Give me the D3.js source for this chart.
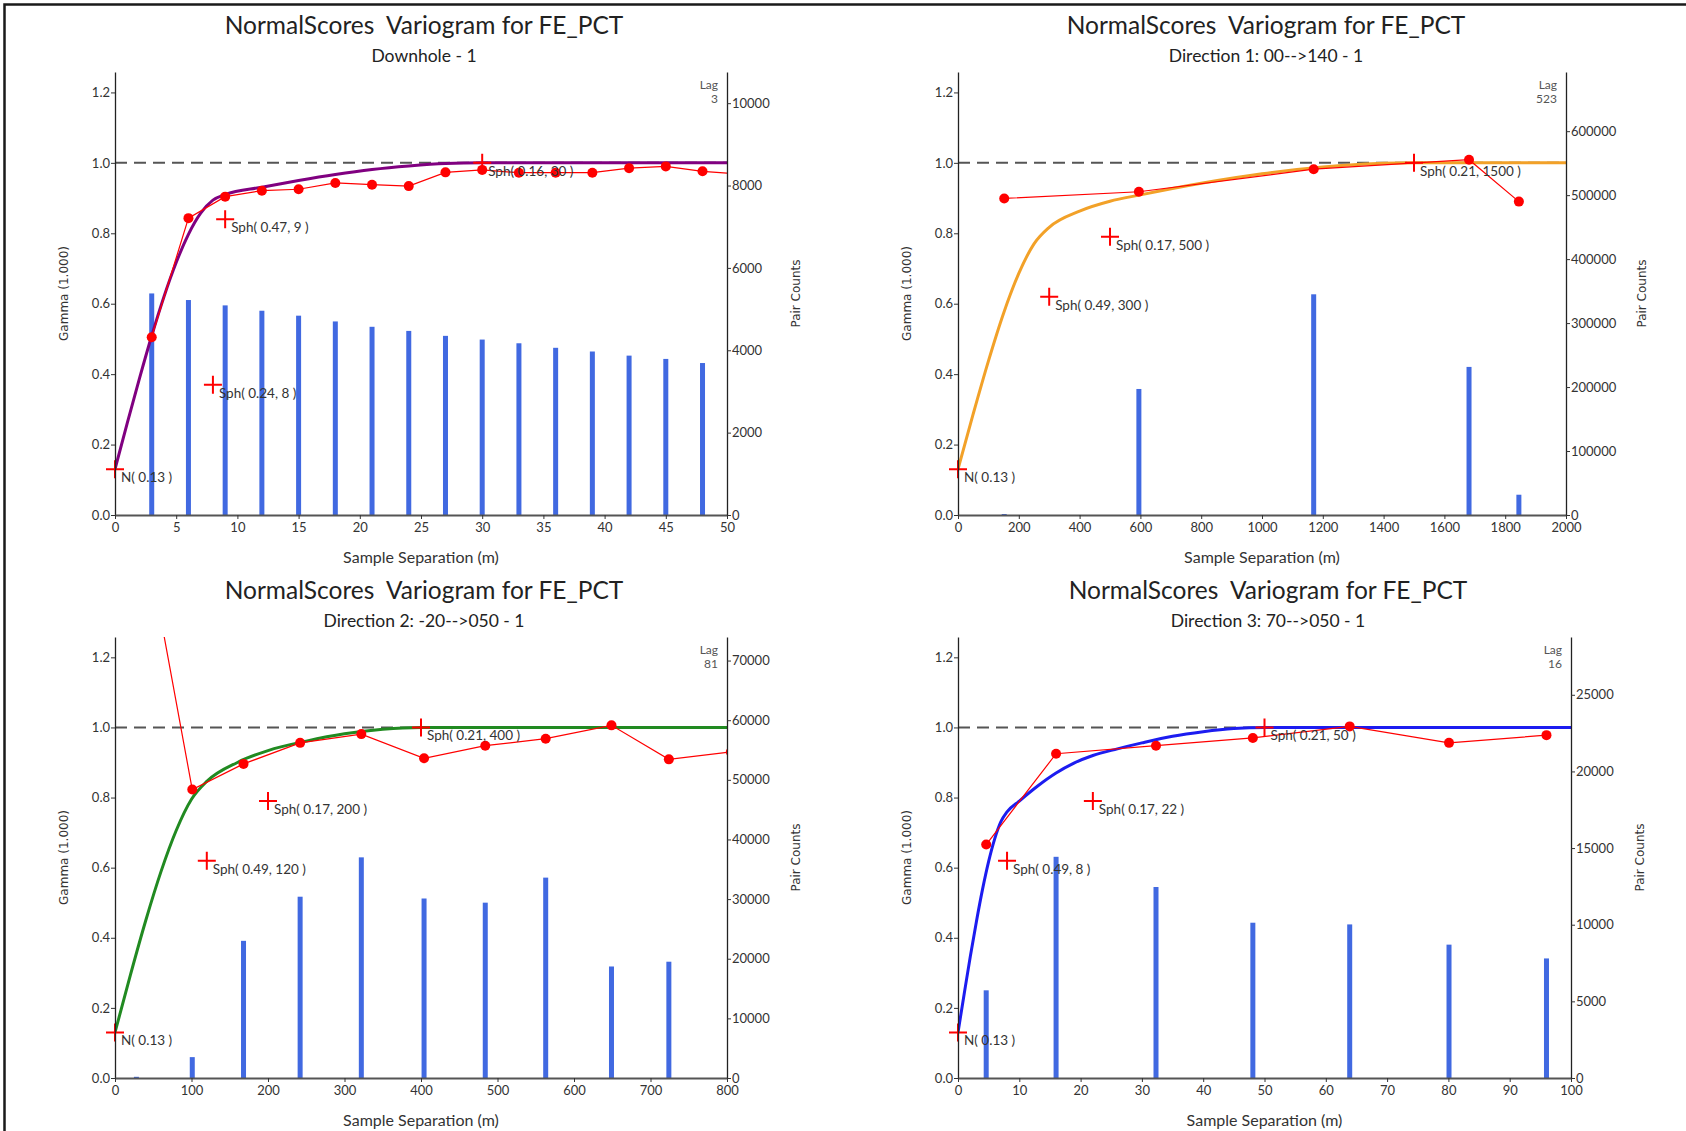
<!DOCTYPE html>
<html>
<head>
<meta charset="utf-8">
<script src="https://cdn.jsdelivr.net/npm/d3@7"></script>
<style>
  body { margin: 0; background: #fff; }
  svg text { font-family: Lato, "Open Sans", sans-serif; }
</style>
</head>
<body>
<script>
// ---- values ----
const titleText = "NormalScores  Variogram for FE_PCT";
const subtitles = ["Downhole - 1", "Direction 1: 00-->140 - 1", "Direction 2: -20-->050 - 1", "Direction 3: 70-->050 - 1"];
const lagLabels = ["3", "523", "81", "16"];
const gammaTicks = [0, 0.2, 0.4, 0.6, 0.8, 1.0, 1.2];

// Downhole
const dhLags  = [3, 6, 9, 12, 15, 18, 21, 24, 27, 30, 33, 36, 39, 42, 45, 48, 51];
const dhGamma = [0.505, 0.843, 0.904, 0.921, 0.925, 0.943, 0.938, 0.934, 0.973, 0.980, 0.972, 0.972, 0.972, 0.985, 0.990, 0.976, 0.968];
const dhPairs = [5380, 5220, 5090, 4960, 4840, 4700, 4570, 4470, 4350, 4260, 4170, 4060, 3970, 3870, 3790, 3690, 3600];
const dhModelH = [0, 1, 2, 3, 4, 5, 6, 7, 8, 9, 12, 15, 18, 21, 24, 27, 30, 50];
const dhModelG = [0.13, 0.261, 0.388, 0.509, 0.620, 0.717, 0.797, 0.857, 0.894, 0.910, 0.931, 0.950, 0.967, 0.981, 0.991, 0.998, 1.0, 1.0];
const dhStructH = [0, 8, 9, 30];
const dhStructG = [0.13, 0.37, 0.84, 1.0];
const dhStructLabels = ["N( 0.13 )", "Sph( 0.24, 8 )", "Sph( 0.47, 9 )", "Sph( 0.16, 30 )"];
const dhXTicks = [0, 5, 10, 15, 20, 25, 30, 35, 40, 45, 50];
const dhPairTicks = [0, 2000, 4000, 6000, 8000, 10000];

// Direction 1
const d1Lags  = [152, 595, 1170, 1681, 1845];
const d1Gamma = [0.899, 0.918, 0.982, 1.009, 0.890];
const d1Pairs = [1500, 197000, 345000, 231500, 31700];
const d1ModelH = [0, 50, 100, 150, 200, 250, 300, 400, 500, 600, 800, 1000, 1200, 1400, 1500, 2000];
const d1ModelG = [0.13, 0.287, 0.437, 0.573, 0.686, 0.770, 0.817, 0.863, 0.891, 0.909, 0.942, 0.969, 0.988, 0.999, 1.0, 1.0];
const d1StructH = [0, 300, 500, 1500];
const d1StructG = [0.13, 0.62, 0.79, 1.0];
const d1StructLabels = ["N( 0.13 )", "Sph( 0.49, 300 )", "Sph( 0.17, 500 )", "Sph( 0.21, 1500 )"];
const d1XTicks = [0, 200, 400, 600, 800, 1000, 1200, 1400, 1600, 1800, 2000];
const d1PairTicks = [0, 100000, 200000, 300000, 400000, 500000, 600000];

// Direction 2
const d2Lags  = [28, 101, 168, 242, 322, 404, 484, 563, 649, 724, 805];
const d2Gamma = [1.69, 0.823, 0.896, 0.956, 0.981, 0.912, 0.948, 0.968, 1.006, 0.909, 0.930];
const d2Pairs = [200, 3500, 23000, 30400, 37000, 30100, 29400, 33600, 18700, 19500, 19000];
const d2ModelH = [0, 20, 40, 60, 80, 100, 120, 160, 200, 250, 300, 350, 400, 800];
const d2ModelG = [0.13, 0.293, 0.448, 0.588, 0.706, 0.795, 0.846, 0.900, 0.934, 0.961, 0.982, 0.995, 1.0, 1.0];
const d2StructH = [0, 120, 200, 400];
const d2StructG = [0.13, 0.62, 0.79, 1.0];
const d2StructLabels = ["N( 0.13 )", "Sph( 0.49, 120 )", "Sph( 0.17, 200 )", "Sph( 0.21, 400 )"];
const d2XTicks = [0, 100, 200, 300, 400, 500, 600, 700, 800];
const d2PairTicks = [0, 10000, 20000, 30000, 40000, 50000, 60000, 70000];

// Direction 3
const d3Lags  = [4.6, 16.0, 32.3, 48.1, 63.9, 80.1, 96.0];
const d3Gamma = [0.666, 0.925, 0.948, 0.970, 1.003, 0.956, 0.978];
const d3Pairs = [5720, 14430, 12460, 10130, 10020, 8700, 7800];
const d3ModelH = [0, 1, 2, 3, 4, 5, 6, 7, 8, 10, 13, 16, 19, 22, 26, 30, 35, 40, 45, 50, 100];
const d3ModelG = [0.13, 0.239, 0.346, 0.446, 0.538, 0.618, 0.683, 0.731, 0.759, 0.790, 0.833, 0.870, 0.899, 0.920, 0.939, 0.956, 0.975, 0.988, 0.997, 1.0, 1.0];
const d3StructH = [0, 8, 22, 50];
const d3StructG = [0.13, 0.62, 0.79, 1.0];
const d3StructLabels = ["N( 0.13 )", "Sph( 0.49, 8 )", "Sph( 0.17, 22 )", "Sph( 0.21, 50 )"];
const d3XTicks = [0, 10, 20, 30, 40, 50, 60, 70, 80, 90, 100];
const d3PairTicks = [0, 5000, 10000, 15000, 20000, 25000];

// ---- layout ----
const width = 1686;
const height = 1131;
const gammaMax = 1.258;

const panels = [
  { left: 115, right: 727, top: 72, bottom: 515, xMax: 50, pMax: 10757, xTicks: dhXTicks, pTicks: dhPairTicks,
    lags: dhLags, gamma: dhGamma, pairs: dhPairs, modelH: dhModelH, modelG: dhModelG,
    structH: dhStructH, structG: dhStructG, structLabels: dhStructLabels, color: "#800080", titleX: 424, pairDx: 69 },
  { left: 958, right: 1566, top: 72, bottom: 515, xMax: 2000, pMax: 692500, xTicks: d1XTicks, pTicks: d1PairTicks,
    lags: d1Lags, gamma: d1Gamma, pairs: d1Pairs, modelH: d1ModelH, modelG: d1ModelG,
    structH: d1StructH, structG: d1StructG, structLabels: d1StructLabels, color: "#f2a128", titleX: 1266, pairDx: 76 },
  { left: 115, right: 727, top: 637, bottom: 1078, xMax: 800, pMax: 73950, xTicks: d2XTicks, pTicks: d2PairTicks,
    lags: d2Lags, gamma: d2Gamma, pairs: d2Pairs, modelH: d2ModelH, modelG: d2ModelG,
    structH: d2StructH, structG: d2StructG, structLabels: d2StructLabels, color: "#218a21", titleX: 424, pairDx: 69 },
  { left: 958, right: 1571, top: 637, bottom: 1078, xMax: 100, pMax: 28770, xTicks: d3XTicks, pTicks: d3PairTicks,
    lags: d3Lags, gamma: d3Gamma, pairs: d3Pairs, modelH: d3ModelH, modelG: d3ModelG,
    structH: d3StructH, structG: d3StructG, structLabels: d3StructLabels, color: "#1c1cf0", titleX: 1268, pairDx: 69 }
];

const svg = d3.select("body").append("svg")
  .attr("width", width)
  .attr("height", height);

svg.append("rect").attr("width", width).attr("height", height).attr("fill", "#fff");

// outer frame (top and left edges only)
svg.append("path")
  .attr("d", `M4.5,${height} V4.5 H${width}`)
  .attr("fill", "none")
  .attr("stroke", "#1a1a1a")
  .attr("stroke-width", 2.5);

const defs = svg.append("defs");

panels.forEach((p, i) => {
  const g = svg.append("g");
  const x = d3.scaleLinear().domain([0, p.xMax]).range([p.left, p.right]);
  const y = d3.scaleLinear().domain([0, gammaMax]).range([p.bottom, p.top]);
  const yP = d3.scaleLinear().domain([0, p.pMax]).range([p.bottom, p.top]);

  defs.append("clipPath").attr("id", "clip" + i)
    .append("rect")
    .attr("x", p.left).attr("y", p.top)
    .attr("width", p.right - p.left).attr("height", p.bottom - p.top);

  const plot = g.append("g").attr("clip-path", `url(#clip${i})`);

  // pair count bars
  plot.selectAll("rect.bar")
    .data(d3.zip(p.lags, p.pairs))
    .enter()
    .append("rect")
    .attr("class", "bar")
    .attr("x", (d) => x(d[0]) - 2.5)
    .attr("width", 5)
    .attr("y", (d) => yP(d[1]))
    .attr("height", (d) => p.bottom - yP(d[1]))
    .attr("fill", "#4169e1");

  // sill reference
  plot.append("line")
    .attr("x1", x(0)).attr("x2", x(p.xMax))
    .attr("y1", y(1)).attr("y2", y(1))
    .attr("stroke", "#555")
    .attr("stroke-width", 2)
    .attr("stroke-dasharray", "12,7");

  // model curve
  plot.append("path")
    .datum(d3.zip(p.modelH, p.modelG))
    .attr("d", d3.line().x((d) => x(d[0])).y((d) => y(d[1])).curve(d3.curveMonotoneX))
    .attr("fill", "none")
    .attr("stroke", p.color)
    .attr("stroke-width", 3);

  // experimental variogram
  const exp = d3.zip(p.lags, p.gamma);
  plot.append("path")
    .datum(exp)
    .attr("d", d3.line().x((d) => x(d[0])).y((d) => y(d[1])))
    .attr("fill", "none")
    .attr("stroke", "#ff0000")
    .attr("stroke-width", 1.2);

  plot.selectAll("circle")
    .data(exp)
    .enter()
    .append("circle")
    .attr("cx", (d) => x(d[0]))
    .attr("cy", (d) => y(d[1]))
    .attr("r", 5)
    .attr("fill", "#ff0000");

  // structure markers
  const structs = d3.zip(p.structH, p.structG, p.structLabels);
  g.selectAll("path.cross")
    .data(structs)
    .enter()
    .append("path")
    .attr("class", "cross")
    .attr("d", (d) => `M${x(d[0]) - 9},${y(d[1])} h18 M${x(d[0])},${y(d[1]) - 9} v18`)
    .attr("stroke", "#ff0000")
    .attr("stroke-width", 2);

  g.selectAll("text.struct")
    .data(structs)
    .enter()
    .append("text")
    .attr("class", "struct")
    .attr("x", (d) => x(d[0]) + 6)
    .attr("y", (d) => y(d[1]) + 13)
    .style("font-size", "13.5px")
    .style("fill", "#333")
    .style("white-space", "pre")
    .text((d) => d[2]);

  // axes
  const leftAxis = g.append("g")
    .attr("transform", `translate(${p.left},0)`)
    .call(d3.axisLeft(y).tickValues(gammaTicks).tickFormat(d3.format(".1f")).tickSize(4).tickSizeOuter(0));
  const bottomAxis = g.append("g")
    .attr("transform", `translate(0,${p.bottom})`)
    .call(d3.axisBottom(x).tickValues(p.xTicks).tickFormat(d3.format("d")).tickSize(4).tickSizeOuter(0));
  const rightAxis = g.append("g")
    .attr("transform", `translate(${p.right},0)`)
    .call(d3.axisRight(yP).tickValues(p.pTicks).tickFormat(d3.format("d")).tickSize(4).tickSizeOuter(0));

  [leftAxis, bottomAxis, rightAxis].forEach((a) => {
    a.selectAll("text")
      .style("font-family", "Lato, sans-serif")
      .style("font-size", "13px")
      .attr("fill", "#333");
    a.selectAll("line").attr("stroke", "#333");
    a.select(".domain").attr("stroke", "#222").attr("stroke-width", 1.3);
  });
  leftAxis.selectAll(".tick text").attr("x", -5);
  rightAxis.selectAll(".tick text").attr("x", 5);
  bottomAxis.selectAll(".tick text").attr("y", 8);
  bottomAxis.select(".domain").attr("stroke", "#555").attr("stroke-width", 2);

  // titles
  g.append("text")
    .attr("x", p.titleX)
    .attr("y", p.top - 38)
    .attr("text-anchor", "middle")
    .style("font-size", "24.5px")
    .style("white-space", "pre")
    .style("fill", "#222")
    .text(titleText);

  g.append("text")
    .attr("x", p.titleX)
    .attr("y", p.top - 10)
    .attr("text-anchor", "middle")
    .style("font-size", "17.5px")
    .style("fill", "#222")
    .text(subtitles[i]);

  // lag note
  g.append("text")
    .attr("x", p.right - 9)
    .attr("y", p.top + 17)
    .attr("text-anchor", "end")
    .style("font-size", "12px")
    .style("fill", "#555")
    .text("Lag");
  g.append("text")
    .attr("x", p.right - 9)
    .attr("y", p.top + 31)
    .attr("text-anchor", "end")
    .style("font-size", "12px")
    .style("fill", "#555")
    .text(lagLabels[i]);

  // axis titles
  const midY = (p.top + p.bottom) / 2;
  g.append("text")
    .attr("transform", `translate(${p.left - 51},${midY}) rotate(-90)`)
    .attr("text-anchor", "middle")
    .attr("dy", "0.35em")
    .style("font-family", "'DejaVu Sans', Verdana, sans-serif")
    .style("font-size", "12px")
    .style("fill", "#333")
    .text("Gamma (1.000)");

  g.append("text")
    .attr("transform", `translate(${p.right + p.pairDx},${midY}) rotate(-90)`)
    .attr("text-anchor", "middle")
    .attr("dy", "0.35em")
    .style("font-family", "'DejaVu Sans', Verdana, sans-serif")
    .style("font-size", "12px")
    .style("fill", "#333")
    .text("Pair Counts");

  g.append("text")
    .attr("x", (p.left + p.right) / 2)
    .attr("y", p.bottom + 48)
    .attr("text-anchor", "middle")
    .style("font-size", "16px")
    .style("fill", "#333")
    .text("Sample Separation (m)");
});
</script>
</body>
</html>
